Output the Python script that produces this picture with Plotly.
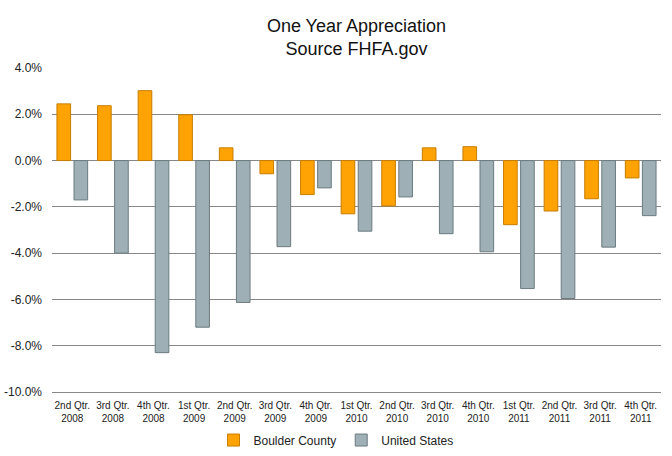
import plotly.graph_objects as go

categories = ["2nd Qtr.<br>2008", "3rd Qtr.<br>2008", "4th Qtr.<br>2008", "1st Qtr.<br>2009",
              "2nd Qtr.<br>2009", "3rd Qtr.<br>2009", "4th Qtr.<br>2009", "1st Qtr.<br>2010",
              "2nd Qtr.<br>2010", "3rd Qtr.<br>2010", "4th Qtr.<br>2010", "1st Qtr.<br>2011",
              "2nd Qtr.<br>2011", "3rd Qtr.<br>2011", "4th Qtr.<br>2011"]
boulder = [2.45, 2.37, 3.02, 1.98, 0.55, -0.57, -1.47, -2.3, -1.96, 0.55, 0.6, -2.77, -2.18, -1.65, -0.75]
united_states = [-1.7, -4.0, -8.3, -7.2, -6.13, -3.72, -1.18, -3.05, -1.57, -3.16, -3.94, -5.53, -5.96, -3.74, -2.38]
y_ticks = [4, 2, 0, -2, -4, -6, -8, -10]
y_tick_labels = ["4.0%", "2.0%", "0.0%", "-2.0%", "-4.0%", "-6.0%", "-8.0%", "-10.0%"]

fig = go.Figure()
fig.add_trace(go.Bar(x=categories, y=boulder, name="Boulder County",
                     marker=dict(color="#FFA305", line=dict(color="#C77D00", width=1))))
fig.add_trace(go.Bar(x=categories, y=united_states, name="United States",
                     marker=dict(color="#9EAFB5", line=dict(color="#6B7B80", width=1))))

fig.update_layout(
    width=672, height=456,
    paper_bgcolor="white", plot_bgcolor="white",
    margin=dict(l=52, r=11, t=68, b=64, autoexpand=False),
    barmode="group", bargap=0.16, bargroupgap=0.2,
    title=dict(text="One Year Appreciation<br>Source FHFA.gov", x=0.5, xanchor="center",
               xref="paper", yref="container", y=0.93, yanchor="middle",
               font=dict(family="Liberation Sans Narrow, Arial Narrow, sans-serif", size=18, color="#111111")),
    font=dict(family="Liberation Sans, Arial, sans-serif", color="#222222"),
    showlegend=True,
    legend=dict(orientation="h", x=0.5, xanchor="center", xref="container",
                yref="container", y=0.035, yanchor="middle",
                font=dict(family="Liberation Sans, Arial, sans-serif", size=12, color="#222222"),
                itemwidth=30, traceorder="normal"),
)
fig.update_yaxes(range=[-10, 4], tickvals=y_ticks, ticktext=y_tick_labels,
                 showgrid=True, gridcolor="#888888", gridwidth=1,
                 zeroline=True, zerolinecolor="#888888", zerolinewidth=1,
                 showline=False, ticks="", automargin=False, ticklabelstandoff=9,
                 tickfont=dict(size=12, color="#222222"))
fig.update_xaxes(showgrid=False, showline=True, linecolor="#888888", linewidth=1,
                 ticks="", tickangle=0, automargin=False, ticklabelstandoff=4,
                 tickfont=dict(family="Liberation Sans Narrow, Arial Narrow, sans-serif", size=10, color="#222222"))

fig.write_html("out.html")
